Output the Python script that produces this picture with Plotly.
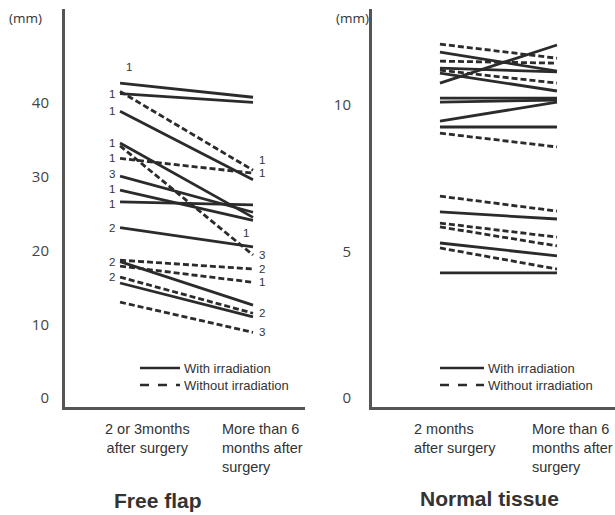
import plotly.graph_objects as go

# The page body margin is removed (see post_script), so the figure fills the window.
OFF = 0
W, H = 615, 515

# ---------------- data ----------------
# Free flap (mm): [start (2 or 3 months), end (>6 months)]
flap_with_start = [42.7, 41.3, 38.9, 34.6, 28.2, 26.6, 30.1, 23.1, 18.5, 15.6]
flap_with_end   = [40.8, 40.1, 29.6, 24.5, 24.1, 26.2, 25.2, 20.5, 12.6, 11.0]
flap_with_lab_start = ["1", "1", "1", "1", "1", "1", "3", "2", "2", ""]
flap_with_lab_end   = ["", "", "", "", "", "", "", "1", "", ""]

flap_without_start = [41.6, 32.5, 34.2, 18.7, 17.9, 16.4, 13.0]
flap_without_end   = [30.9, 30.5, 19.4, 17.5, 15.7, 11.5, 8.9]
flap_without_lab_start = ["", "1", "", "", "", "2", ""]
flap_without_lab_end   = ["1", "1", "3", "2", "1", "2", "3"]

# Normal tissue (mm)
norm_with_start = [11.81, 11.26, 10.75, 11.09, 10.24, 10.10, 9.45, 9.25, 6.35, 5.29, 4.27]
norm_with_end   = [11.16, 11.13, 12.05, 10.48, 10.24, 10.17, 10.10, 9.25, 6.11, 4.85, 4.27]

norm_without_start = [12.08, 11.50, 11.19, 9.04, 6.89, 5.97, 5.84, 5.12]
norm_without_end   = [11.60, 11.43, 10.75, 8.57, 6.38, 5.49, 5.19, 4.40]

flap_ticks = [0, 10, 20, 30, 40]
norm_ticks = [0, 5, 10]
flap_cats = ["2 or 3months<br>after surgery", "More than 6<br>months after<br>surgery"]
norm_cats = ["2 months<br>after surgery", "More than 6<br>months after<br>surgery"]
legend_labels = ["With irradiation", "Without irradiation"]

# ---------------- figure ----------------
LINE = "#2b2b2b"
TXT = "#333333"
DASH = "6px,3px"
SANS = "Liberation Sans, Arial"

fig = go.Figure()

def add_lines(starts, ends, dash, xa, ya):
    for s, e in zip(starts, ends):
        fig.add_trace(go.Scatter(x=[0, 1], y=[s, e], mode="lines",
                                 line=dict(color=LINE, width=2.8, dash=dash),
                                 xaxis=xa, yaxis=ya, showlegend=False,
                                 hoverinfo="skip"))

add_lines(flap_with_start, flap_with_end, "solid", "x", "y")
add_lines(flap_without_start, flap_without_end, DASH, "x", "y")
add_lines(norm_with_start, norm_with_end, "solid", "x2", "y2")
add_lines(norm_without_start, norm_without_end, DASH, "x2", "y2")

ann = []

def lab(text, x, y, anchor, xs=0, ys=0):
    if text:
        ann.append(dict(text=text, x=x, y=y, xref="x", yref="y", showarrow=False,
                        xanchor=anchor, yanchor="middle", xshift=xs, yshift=ys,
                        font=dict(family=SANS, size=11.5, color=TXT)))

start_shift = {4: 1, 5: -2, 6: 2}
for i, t in enumerate(flap_with_lab_start):
    if i == 0:
        lab(t, 0, flap_with_start[i], "center", xs=9, ys=16)
    else:
        lab(t, 0, flap_with_start[i], "right", xs=-3, ys=start_shift.get(i, 0))
for i, t in enumerate(flap_with_lab_end):
    lab(t, 1, flap_with_end[i], "left", xs=-12, ys=14)
for i, t in enumerate(flap_without_lab_start):
    lab(t, 0, flap_without_start[i], "right", xs=-3)
for i, t in enumerate(flap_without_lab_end):
    ys = 10 if i == 0 else 0
    lab(t, 1, flap_without_end[i], "left", xs=4, ys=ys)

def px(x):
    return (x - OFF) / W

def py(y):
    return 1 - (y - OFF) / H

def paper_text(text, x, y, xanchor="left", yanchor="top", size=13, bold=False,
               align="left", family=SANS):
    ann.append(dict(text=f"<b>{text}</b>" if bold else text, x=px(x), y=py(y),
                    xref="paper", yref="paper", showarrow=False, xanchor=xanchor,
                    yanchor=yanchor, align=align,
                    font=dict(family=family, size=size, color=TXT)))

# units
paper_text("(mm)", 7, 18, xanchor="left", yanchor="middle", size=13.5, family="Open Sans")
paper_text("(mm)", 371, 18, xanchor="right", yanchor="middle", size=13.5, family="Open Sans")

# category labels
paper_text(flap_cats[0], 147, 419, xanchor="center", align="center", size=14.5)
paper_text(flap_cats[1], 220, 419, size=14.5)
paper_text(norm_cats[0], 412, 419, size=14.5)
paper_text(norm_cats[1], 530, 419, size=14.5)

# panel titles
paper_text("Free flap", 158, 500, xanchor="center", yanchor="middle", size=21, bold=True)
paper_text("Normal tissue", 489, 498, xanchor="center", yanchor="middle", size=21, bold=True)

# legends (drawn manually)
shapes = []
for (x0, x1, tx) in [(140, 180, 182), (440, 484, 486)]:
    for k, (yy, d) in enumerate([(368, "solid"), (385, "dash")]):
        shapes.append(dict(type="line", xref="paper", yref="paper",
                           x0=px(x0), x1=px(x1), y0=py(yy), y1=py(yy),
                           line=dict(color=LINE, width=2.4, dash=d)))
        paper_text(legend_labels[k], tx, yy, yanchor="middle", size=13)

axis_common = dict(showgrid=False, zeroline=False, showline=True, linewidth=3,
                   linecolor="#555555", ticks="")

fig.update_layout(
    width=W, height=H,
    margin=dict(l=0, r=0, t=0, b=0),
    paper_bgcolor="white", plot_bgcolor="white",
    showlegend=False,
    xaxis=dict(domain=[px(65), px(305)], range=[-0.414, 1.391], showticklabels=False,
               anchor="y", **axis_common),
    yaxis=dict(domain=[py(407), py(9)], range=[-1.22, 52.77], tickvals=flap_ticks,
               ticklabelstandoff=10, anchor="x",
               tickfont=dict(family="Open Sans", size=15, color="#444444"), **axis_common),
    xaxis2=dict(domain=[px(372), 1.0], range=[-0.581, 1.496], showticklabels=False,
                anchor="y2", **axis_common),
    yaxis2=dict(domain=[py(407), py(9)], range=[-0.31, 13.28], tickvals=norm_ticks,
                ticklabelstandoff=15, anchor="x2",
                tickfont=dict(family="Open Sans", size=15, color="#444444"), **axis_common),
    annotations=ann,
    shapes=shapes,
)

fig.write_html(
    "out.html",
    config={"displayModeBar": False},
    post_script="document.body.style.margin='0';"
                "document.documentElement.style.overflow='hidden';",
)
